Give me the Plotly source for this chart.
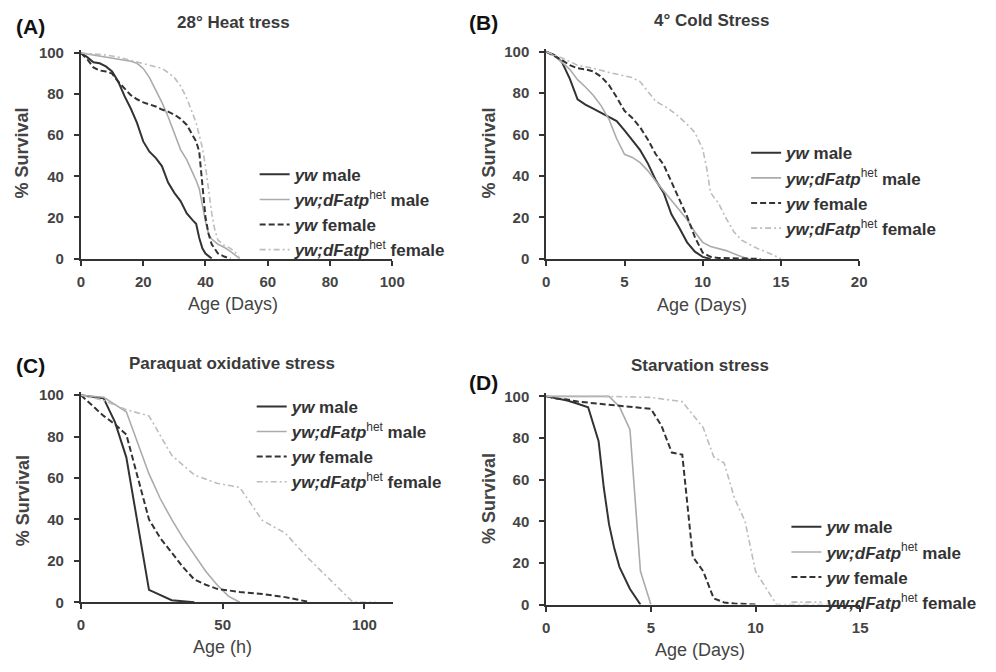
import plotly.graph_objects as go

W, H = 996, 672

# ---------------- DATA ----------------
series_names = ["yw male", "yw;dFatp het male", "yw female", "yw;dFatp het female"]

# (A) 28° heat stress, age in days
heat_yw_male_x = [0, 2, 4, 6, 8, 10, 12, 14, 16, 18, 20, 22, 24, 26, 28, 30, 32, 34, 36, 37, 38, 39, 40, 41, 42]
heat_yw_male_y = [100, 98, 95.5, 95, 93.5, 91, 86, 79, 73, 66, 57, 52, 49, 45, 37, 32, 28, 22, 18.5, 17, 10, 5, 2.5, 1, 0]
heat_het_male_x = [0, 4, 8, 12, 16, 18, 20, 22, 24, 26, 28, 30, 32, 34, 36, 37, 38, 39, 40, 41, 42, 44, 46, 48, 50, 51]
heat_het_male_y = [100, 99, 98, 97, 96, 95, 92.5, 88, 82, 76, 69, 61, 53, 48, 41.5, 38, 34, 26, 18, 12, 9.5, 7, 5.5, 3.5, 1, 0]
heat_yw_female_x = [0, 2, 4, 6, 8, 10, 12, 14, 16, 18, 20, 22, 24, 26, 28, 30, 32, 34, 36, 37, 38, 39, 40, 41, 42, 44, 46, 48]
heat_yw_female_y = [100, 97, 93, 91.5, 91, 90, 86, 83, 79.5, 77.5, 76, 75, 74, 72.5, 71.5, 70, 68, 65, 60, 57, 52, 34, 20, 12, 7, 2.5, 1, 0]
heat_het_female_x = [0, 4, 8, 12, 16, 20, 24, 26, 28, 30, 32, 34, 36, 37, 38, 39, 40, 41, 42, 43, 44, 46, 48, 50, 51]
heat_het_female_y = [100, 99.5, 99, 98, 96.5, 95, 93.5, 92.5, 90.5, 88, 84, 78, 70, 66, 60, 54, 45, 33, 22, 14, 9, 6.5, 5, 2.5, 0]

# (B) 4° cold stress, age in days
cold_yw_male_x = [0, 0.5, 1, 1.5, 2, 2.5, 3, 3.5, 4, 4.5, 5, 5.5, 6, 6.5, 7, 7.5, 8, 8.5, 9, 9.5, 10, 10.5]
cold_yw_male_y = [100, 98.5, 95, 87, 77, 74.5, 72.5, 70.5, 68.5, 66.5, 62, 57, 52.5, 46, 38, 32, 21.5, 15, 8, 3.5, 1, 0]
cold_het_male_x = [0, 0.5, 1, 1.5, 2, 2.5, 3, 3.5, 4, 4.5, 5, 5.5, 6, 6.5, 7, 7.5, 8, 8.5, 9, 9.5, 10, 10.5, 11, 11.5, 12, 12.5, 13]
cold_het_male_y = [100, 98, 95, 91.5, 86.5, 83, 79, 74, 67.5, 58, 50.5, 49, 46.5, 42.5, 37.5, 33, 28, 24, 19, 13, 8, 6, 5, 4, 2.5, 1, 0]
cold_yw_female_x = [0, 0.5, 1, 1.5, 2, 2.5, 3, 3.5, 4, 4.5, 5, 5.5, 6, 6.5, 7, 7.5, 8, 8.5, 9, 9.5, 10, 10.5, 11, 13.7]
cold_yw_female_y = [100, 98, 96, 93.5, 92, 91.5, 90.5, 88, 84, 78, 71.5, 68, 63.5, 57.5, 50.5, 45.5, 37, 29, 20.5, 10.5, 3, 1, 0.5, 0]
cold_het_female_x = [0, 0.5, 1, 2, 3, 4, 5, 5.5, 6, 6.5, 7, 7.5, 8, 8.5, 9, 9.5, 10, 10.25, 10.5, 11, 11.5, 12, 12.5, 13, 13.5, 14, 14.5, 15]
cold_het_female_y = [100, 98.5, 97, 93.5, 92, 90, 88.5, 87.5, 85.5, 81, 76, 74, 71.5, 68.5, 65, 61, 53, 44, 32, 27, 19.5, 13, 9, 7, 5, 3.5, 2, 0]

# (C) Paraquat oxidative stress, age in hours
para_yw_male_x = [0, 8, 12, 16, 24, 32, 40]
para_yw_male_y = [100, 98.5, 87, 70, 6, 1, 0]
para_het_male_x = [0, 8, 16, 24, 28, 32, 36, 40, 44, 48, 52, 56]
para_het_male_y = [100, 99, 92, 62, 50, 40, 31, 23, 15, 8.5, 3, 0]
para_yw_female_x = [0, 4, 8, 12, 16, 24, 28, 32, 36, 40, 44, 48, 56, 64, 72, 80]
para_yw_female_y = [100, 95, 90, 86, 81, 40, 31, 24, 17, 11, 8.5, 6.5, 5, 4, 2.5, 0.3]
para_het_female_x = [0, 8, 16, 24, 32, 40, 48, 56, 64, 72, 80, 88, 96, 104]
para_het_female_y = [100, 97.5, 93, 90, 71, 61.5, 57.5, 55.5, 39.5, 33.5, 21.5, 10.5, 0, 0]

# (D) Starvation stress, age in days
starv_yw_male_x = [0, 0.5, 1, 1.5, 2, 2.5, 2.75, 3, 3.25, 3.5, 4, 4.5]
starv_yw_male_y = [100, 99, 98, 96.5, 94.8, 78.5, 56, 38.5, 27, 18, 7.5, 0]
starv_het_male_x = [0, 1, 2, 3, 3.5, 4, 4.5, 5]
starv_het_male_y = [100, 100, 100, 100, 95, 84, 16, 0]
starv_yw_female_x = [0, 0.5, 1, 1.5, 2, 3, 4, 5, 5.5, 6, 6.5, 7, 7.5, 8, 8.5, 9, 10]
starv_yw_female_y = [100, 99, 98.5, 97.5, 97, 96, 95, 94, 86, 73, 72, 23, 16, 3, 1, 0.5, 0]
starv_het_female_x = [0, 3, 5, 6.5, 7.5, 8, 8.5, 9, 9.5, 10, 10.5, 11, 14]
starv_het_female_y = [100, 100, 99.5, 97.5, 85, 71, 68, 51, 40, 16, 8, 0, 0]

panel_titles = ["28° Heat tress", "4° Cold Stress", "Paraquat oxidative stress", "Starvation stress"]
panel_letters = ["(A)", "(B)", "(C)", "(D)"]
x_titles = ["Age (Days)", "Age (Days)", "Age (h)", "Age (Days)"]
y_title = "% Survival"
x_ticks = [[0, 20, 40, 60, 80, 100], [0, 5, 10, 15, 20], [0, 50, 100], [0, 5, 10, 15]]
y_ticks = [0, 20, 40, 60, 80, 100]

# ---------------- STYLE / LAYOUT ----------------
FONT = "Arial, Liberation Sans, sans-serif"
DARK = "#333333"
LIGHT = "#ababab"
LIGHT2 = "#bdbdbd"
styles = [
    dict(color=DARK, width=2, dash="solid"),
    dict(color=LIGHT, width=1.6, dash="solid"),
    dict(color=DARK, width=2, dash="6px,3px"),
    dict(color=LIGHT2, width=1.6, dash="6px,3px,2px,3px"),
]
legend_labels = [
    "<b><i>yw</i> male</b>",
    "<b><i>yw;dFatp</i></b><sup>het</sup><b> male</b>",
    "<b><i>yw</i> female</b>",
    "<b><i>yw;dFatp</i></b><sup>het</sup><b> female</b>",
]

panels = [
    ([heat_yw_male_x, heat_het_male_x, heat_yw_female_x, heat_het_female_x],
     [heat_yw_male_y, heat_het_male_y, heat_yw_female_y, heat_het_female_y]),
    ([cold_yw_male_x, cold_het_male_x, cold_yw_female_x, cold_het_female_x],
     [cold_yw_male_y, cold_het_male_y, cold_yw_female_y, cold_het_female_y]),
    ([para_yw_male_x, para_het_male_x, para_yw_female_x, para_het_female_x],
     [para_yw_male_y, para_het_male_y, para_yw_female_y, para_het_female_y]),
    ([starv_yw_male_x, starv_het_male_x, starv_yw_female_x, starv_het_female_x],
     [starv_yw_male_y, starv_het_male_y, starv_yw_female_y, starv_het_female_y]),
]

# pixel geometry of each panel: x0px, x_at_ref_px, ref_value, xmax, y0px, y100px
geom = [
    (78.3, 395.0, 100, 100, 258.0, 48.0),
    (551.7, 870.0, 20, 20, 258.3, 46.7),
    (78.3, 366.7, 100, 110, 609.0, 397.5),
    (551.7, 871.0, 15, 15, 611.3, 398.7),
]
YTOP = 101.5

legend_pos = [(255, 154), (755, 132), (252, 391), (796, 514)]
title_pos = [(233, 17), (720, 15), (232, 365), (708, 367)]
letter_pos = [(27, 21), (488, 17), (27, 367), (488, 385)]
ytitle_pos = [(18, 150), (493, 150), (20, 505), (493, 503)]
xtitle_pos = [(233, 304), (710, 305), (222, 655), (708, 658)]

fig = go.Figure()
layout = dict(width=W, height=H, margin=dict(l=0, r=0, t=0, b=0),
              paper_bgcolor="white", plot_bgcolor="white", showlegend=True,
              font=dict(family=FONT, color=DARK))
annotations = []

for i, (xs, ys) in enumerate(panels):
    k = "" if i == 0 else str(i + 1)
    x0px, xrefpx, xrefval, xmax, y0px, y100px = geom[i]
    pxper = (xrefpx - x0px) / xrefval
    x1px = x0px + pxper * xmax
    ypx_top = y0px - (y0px - y100px) * YTOP / 100
    leg = "legend" + k
    for j in range(4):
        fig.add_trace(go.Scatter(
            x=xs[j], y=ys[j], mode="lines", name=legend_labels[j],
            line=styles[j], xaxis="x" + k, yaxis="y" + k, legend=leg,
            hoverinfo="skip"))
    tickfont = dict(family=FONT, size=15, color="#444444", weight="bold")
    layout["xaxis" + k] = dict(
        domain=[x0px / W, x1px / W], range=[0, xmax], anchor="y" + k,
        showline=True, linecolor=DARK, linewidth=2, ticks="outside", ticklen=5,
        tickwidth=2, tickcolor=DARK, tickvals=x_ticks[i], showgrid=False,
        zeroline=False, tickfont=tickfont, ticklabelstandoff=3)
    layout["yaxis" + k] = dict(
        domain=[1 - y0px / H, 1 - ypx_top / H], range=[0, YTOP], anchor="x" + k,
        showline=True, linecolor=DARK, linewidth=2, ticks="outside", ticklen=5,
        tickwidth=2, tickcolor=DARK, tickvals=y_ticks, showgrid=False,
        zeroline=False, tickfont=tickfont, ticklabelstandoff=7)
    lx, ly = legend_pos[i]
    layout[leg] = dict(x=lx / W, y=1 - ly / H, xanchor="left", yanchor="top",
                       bgcolor="rgba(0,0,0,0)", itemwidth=30, tracegroupgap=0,
                       font=dict(family=FONT, size=17, color=DARK))
    tx, ty = title_pos[i]
    annotations.append(dict(x=tx / W, y=1 - ty / H, xref="paper", yref="paper",
                            text="<b>%s</b>" % panel_titles[i], showarrow=False,
                            xanchor="center", yanchor="middle",
                            font=dict(family=FONT, size=17, color="#3a3a3a")))
    lx2, ly2 = letter_pos[i]
    annotations.append(dict(x=lx2 / W, y=1 - ly2 / H, xref="paper", yref="paper",
                            text="<b>%s</b>" % panel_letters[i], showarrow=False,
                            xanchor="center", yanchor="middle",
                            font=dict(family=FONT, size=21, color="#111111")))
    yx, yy = ytitle_pos[i]
    annotations.append(dict(x=yx / W, y=1 - yy / H, xref="paper", yref="paper",
                            text="<b>%s</b>" % y_title, showarrow=False, textangle=-90,
                            xanchor="center", yanchor="middle",
                            font=dict(family=FONT, size=18, color="#444444")))
    xx, xy = xtitle_pos[i]
    annotations.append(dict(x=xx / W, y=1 - xy / H, xref="paper", yref="paper",
                            text=x_titles[i], showarrow=False,
                            xanchor="center", yanchor="middle",
                            font=dict(family=FONT, size=18, color="#444444")))

layout["annotations"] = annotations
fig.update_layout(**layout)
fig.write_html("out.html")
